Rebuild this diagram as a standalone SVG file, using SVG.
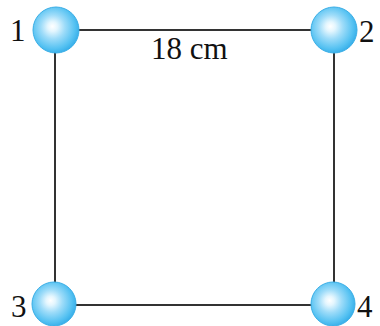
<svg xmlns="http://www.w3.org/2000/svg" width="380" height="326" viewBox="0 0 380 326">
<style>
.lbl{font-family:"Liberation Serif",serif;font-size:31px;fill:#111}
.edge{stroke:#333;stroke-width:2;fill:none}
.ball{fill:url(#g);stroke:#3aaee6;stroke-width:1}
</style>
<defs>
<radialGradient id="g" cx="0.45" cy="0.45" r="0.58" fx="0.42" fy="0.42">
<stop offset="0" stop-color="#ffffff"/>
<stop offset="0.18" stop-color="#e4f6fe"/>
<stop offset="0.45" stop-color="#9edcf9"/>
<stop offset="0.8" stop-color="#56c2f2"/>
<stop offset="1" stop-color="#33ace8"/>
</radialGradient>
</defs>
<g id="connectors">
<line class="edge" x1="56" y1="30" x2="334" y2="30"/>
<line class="edge" x1="55" y1="30" x2="55" y2="305"/>
<line class="edge" x1="334" y1="30" x2="334" y2="305"/>
<line class="edge" x1="55" y1="305" x2="334" y2="305"/>
</g>
<g id="n1"><circle class="ball" cx="56" cy="30" r="23"/><text class="lbl" x="10" y="41">1</text></g>
<g id="n2"><circle class="ball" cx="334" cy="30" r="23"/><text class="lbl" x="359" y="42">2</text></g>
<g id="n3"><circle class="ball" cx="54" cy="304" r="22"/><text class="lbl" x="11" y="317">3</text></g>
<g id="n4"><circle class="ball" cx="333" cy="304" r="22"/><text class="lbl" x="357" y="317">4</text></g>
<g id="dim"><text class="lbl" x="151" y="59">18 cm</text></g>
</svg>
